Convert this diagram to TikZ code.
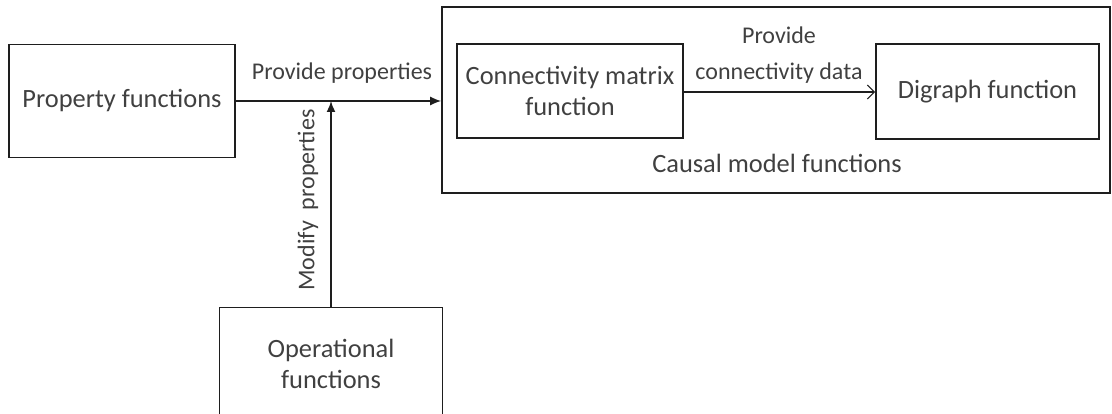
\documentclass[tikz,border=0pt]{standalone}
\usepackage{fontspec}
\setmainfont{Carlito}
\usetikzlibrary{arrows.meta}
\definecolor{linegray}{HTML}{1E1E1E}
\definecolor{textgray}{HTML}{404040}
\begin{document}
\begin{tikzpicture}[x=1pt,y=-1pt,
  box/.style={draw=linegray, line width=1.6pt, rectangle, inner sep=0pt,
    text=textgray, align=center, font=\fontsize{26.4}{31}\selectfont},
  lbl/.style={text=textgray, align=center, inner sep=0pt,
    font=\fontsize{24}{36}\selectfont},
  conn/.style={draw=linegray, line width=1.6pt},
]
\useasboundingbox (0,0) rectangle (1112,414);
\clip (0,0) rectangle (1112,414);

% function boxes
\node[box, minimum width=226pt, minimum height=113pt] (prop) at (122,101) {Property functions};
\node[box, minimum width=668pt, minimum height=186pt] (causal) at (776,100) {};
\node[box, minimum width=226pt, minimum height=94pt] (conmat) at (570,91) {Connectivity matrix\\function};
\node[box, minimum width=223pt, minimum height=95pt] (digraph) at (987.5,91.5) {Digraph function};
\node[box, minimum width=223pt, minimum height=113pt] (oper) at (331,364) {Operational\\functions};

% labels
\node[lbl, font=\fontsize{26.4}{31}\selectfont] (causallbl) at (777,163) {Causal model functions};
\node[lbl] (provprop) at (342,73) {Provide properties};
\node[lbl] (provcon) at (779,55) {Provide\\connectivity data};
\node[lbl, rotate=90] (modprop) at (308,200) {Modify\ \ properties};

% connectors
\coordinate (join) at (oper.north |- prop.east);
\draw[conn, -{Latex[length=11pt,width=9pt]}] (prop.east) -- (prop.east -| causal.west);
\draw[conn, -{Latex[length=11pt,width=9pt]}] (oper.north) -- (join);
\draw[conn, line width=1.2pt, -{Straight Barb[length=7pt,width=14pt]}] (conmat.east |- 0,92) -- (digraph.west |- 0,92);
\end{tikzpicture}
\end{document}
